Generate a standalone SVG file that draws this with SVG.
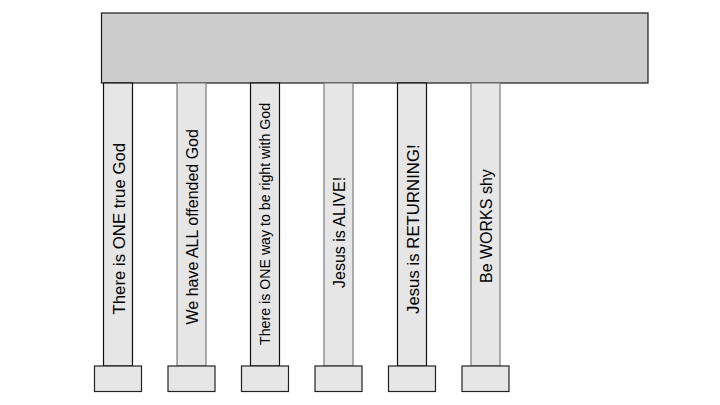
<svg xmlns="http://www.w3.org/2000/svg" width="720" height="405" viewBox="0 0 720 405">
<style>
.top{fill:#cccccc;stroke:#1a1a1a;stroke-width:1.2}
.col{fill:#e6e6e6;stroke-width:1.2}
.dark{stroke:#111111}
.gray{stroke:#7a7a7a}
.base{fill:#e6e6e6;stroke:#222222;stroke-width:1.2}
.t{font-family:"Liberation Sans",Arial,sans-serif;font-size:16px;fill:#000}
</style>
<rect width="720" height="405" fill="#ffffff"/>
<g id="top-beam"><rect class="top" x="101.5" y="13" width="546.5" height="70"/></g>
<g id="pillar1">
<rect class="col dark" x="103.5" y="83" width="29" height="283"/>
<rect class="base" x="94.5" y="366" width="47" height="25.5"/>
<text class="t" style="font-size:16.8px" transform="translate(124.5,314.5) rotate(-90)">There is ONE true God</text>
</g>
<g id="pillar2">
<rect class="col gray" x="177" y="83" width="29" height="283"/>
<rect class="base" x="168" y="366" width="47" height="25.5"/>
<text class="t" transform="translate(197.5,324.5) rotate(-90)">We have ALL offended God</text>
</g>
<g id="pillar3">
<rect class="col dark" x="250.5" y="83" width="29" height="283"/>
<rect class="base" x="241.5" y="366" width="47" height="25.5"/>
<text class="t" style="font-size:14.2px" transform="translate(270,345) rotate(-90)">There is ONE way to be right with God</text>
</g>
<g id="pillar4">
<rect class="col gray" x="324" y="83" width="29" height="283"/>
<rect class="base" x="315" y="366" width="47" height="25.5"/>
<text class="t" transform="translate(344.5,288) rotate(-90)">Jesus is ALIVE!</text>
</g>
<g id="pillar5">
<rect class="col dark" x="397.5" y="83" width="29" height="283"/>
<rect class="base" x="388.5" y="366" width="47" height="25.5"/>
<text class="t" style="font-size:16.8px" transform="translate(418.5,314) rotate(-90)">Jesus is RETURNING!</text>
</g>
<g id="pillar6">
<rect class="col gray" x="471" y="83" width="29" height="283"/>
<rect class="base" x="462" y="366" width="47" height="25.5"/>
<text class="t" transform="translate(491.5,283) rotate(-90)">Be WORKS shy</text>
</g>
<g id="connectors"></g>
</svg>
